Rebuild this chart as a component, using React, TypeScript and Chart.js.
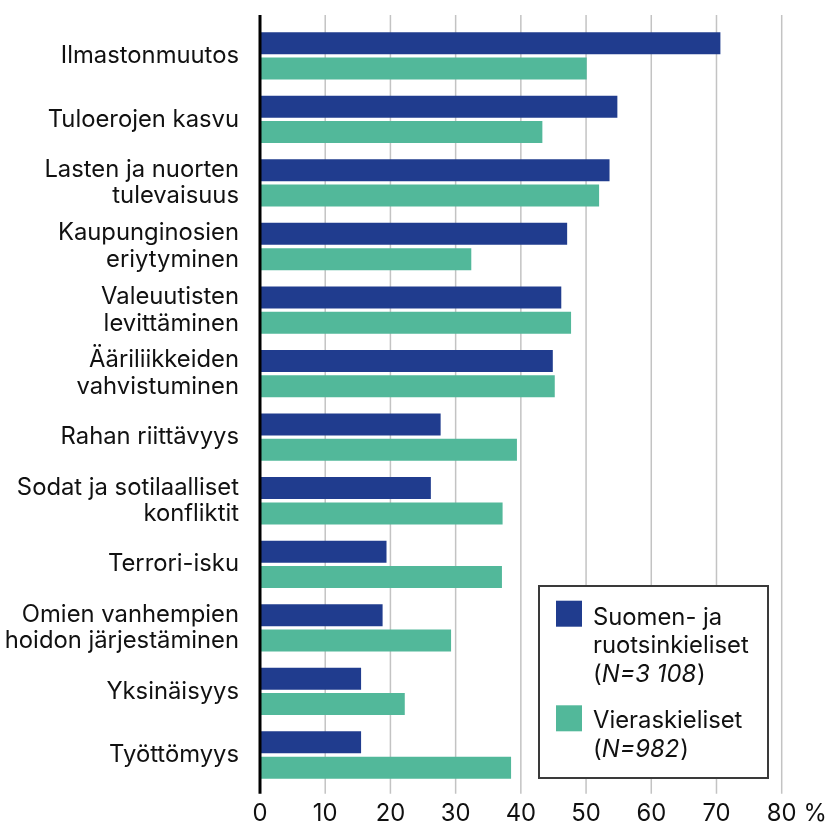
import React, { useEffect, useRef } from 'react';
import { Chart, registerables } from 'chart.js';

Chart.register(...registerables);

const categories: (string | string[])[] = [
  'Ilmastonmuutos',
  'Tuloerojen kasvu',
  ['Lasten ja nuorten', 'tulevaisuus'],
  ['Kaupunginosien', 'eriytyminen'],
  ['Valeuutisten', 'levittäminen'],
  ['Ääriliikkeiden', 'vahvistuminen'],
  'Rahan riittävyys',
  ['Sodat ja sotilaalliset', 'konfliktit'],
  'Terrori-isku',
  ['Omien vanhempien', 'hoidon järjestäminen'],
  'Yksinäisyys',
  'Työttömyys',
];

const finnishSwedish = [70.6, 54.8, 53.6, 47.1, 46.2, 44.9, 27.7, 26.2, 19.4, 18.8, 15.5, 15.5];
const foreignLanguage = [50.1, 43.3, 52.0, 32.4, 47.7, 45.2, 39.4, 37.2, 37.1, 29.3, 22.2, 38.5];

const xTicks = [0, 10, 20, 30, 40, 50, 60, 70, 80];
const unitLabel = '%';

const legendLines1 = ['Suomen- ja', 'ruotsinkieliset'];
const legendN1 = 'N=3 108';
const legendLines2 = ['Vieraskieliset'];
const legendN2 = 'N=982';

const BLUE = '#203c8e';
const GREEN = '#52b89a';
const FONT = 'Inter, "Noto Sans", sans-serif';
const FS = 23.8;
const TEXT = '#111111';

const gridPlugin = {
  id: 'customGrid',
  beforeDatasetsDraw(chart: any) {
    const { ctx, chartArea, scales } = chart;
    const x = scales.x;
    ctx.save();
    ctx.strokeStyle = '#c3c3c3';
    ctx.lineWidth = 1.5;
    for (const v of xTicks) {
      if (v === 0) continue;
      const px = x.getPixelForValue(v);
      ctx.beginPath();
      ctx.moveTo(px, chartArea.top - 9);
      ctx.lineTo(px, chartArea.bottom + 7);
      ctx.stroke();
    }
    ctx.restore();
  },
  afterDatasetsDraw(chart: any) {
    const { ctx, chartArea, scales } = chart;
    const px = scales.x.getPixelForValue(0);
    ctx.save();
    ctx.strokeStyle = '#000000';
    ctx.lineWidth = 3;
    ctx.beginPath();
    ctx.moveTo(px, chartArea.top - 9);
    ctx.lineTo(px, chartArea.bottom + 7);
    ctx.stroke();
    ctx.restore();
  },
};

const extrasPlugin = {
  id: 'extras',
  afterDraw(chart: any) {
    const { ctx, scales } = chart;
    const x = scales.x;
    const tickFont = x.options.ticks.font;
    ctx.save();
    ctx.font = `${FS}px ${FONT}`;
    ctx.fillStyle = TEXT;
    ctx.textBaseline = 'middle';
    ctx.textAlign = 'left';
    const last = xTicks[xTicks.length - 1];
    const lastPx = x.getPixelForValue(last);
    const w = ctx.measureText(String(last)).width;
    const y = x.top + x.options.ticks.padding + (tickFont.size * tickFont.lineHeight) / 2;
    ctx.fillText(unitLabel, lastPx + w / 2 + 7, y);

    // legend box
    const bx = 539, by = 586, bw = 229, bh = 192;
    ctx.fillStyle = '#ffffff';
    ctx.fillRect(bx, by, bw, bh);
    ctx.strokeStyle = '#3a3a3a';
    ctx.lineWidth = 2;
    ctx.strokeRect(bx, by, bw, bh);

    const sw = 26;
    const tx = 593;
    const lh = 28.3;
    ctx.textBaseline = 'alphabetic';

    const drawEntry = (color: string, sy: number, lines: string[], n: string, base: number) => {
      ctx.fillStyle = color;
      ctx.fillRect(556, sy, sw, sw);
      ctx.fillStyle = TEXT;
      ctx.font = `${FS}px ${FONT}`;
      let yy = base;
      for (const l of lines) {
        ctx.fillText(l, tx, yy);
        yy += lh;
      }
      let cx = tx;
      ctx.fillText('(', cx, yy);
      cx += ctx.measureText('(').width;
      ctx.font = `italic ${FS}px ${FONT}`;
      ctx.fillText(n, cx, yy);
      cx += ctx.measureText(n).width + 1;
      ctx.font = `${FS}px ${FONT}`;
      ctx.fillText(')', cx, yy);
    };
    drawEntry(BLUE, 600.7, legendLines1, legendN1, 625);
    drawEntry(GREEN, 705.3, legendLines2, legendN2, 728.3);
    ctx.restore();
  },
};

export default function App() {
  const ref = useRef<HTMLCanvasElement | null>(null);
  useEffect(() => {
    if (!ref.current) return;
    const chart = new Chart(ref.current, {
      type: 'bar',
      data: {
        labels: categories as any,
        datasets: [
          {
            label: 'Suomen- ja ruotsinkieliset (N=3 108)',
            data: finnishSwedish,
            backgroundColor: BLUE,
            borderWidth: 0,
            categoryPercentage: 0.796,
            barPercentage: 0.87,
          },
          {
            label: 'Vieraskieliset (N=982)',
            data: foreignLanguage,
            backgroundColor: GREEN,
            borderWidth: 0,
            categoryPercentage: 0.796,
            barPercentage: 0.87,
          },
        ],
      },
      options: {
        indexAxis: 'y',
        animation: false,
        responsive: false,
        maintainAspectRatio: false,
        layout: { padding: { top: 24, right: 45.3, bottom: 0, left: 0 } },
        plugins: {
          legend: { display: false },
          tooltip: { enabled: false },
        },
        scales: {
          x: {
            type: 'linear',
            position: 'bottom',
            min: 0,
            max: 80,
            afterBuildTicks: (scale: any) => {
              scale.ticks = xTicks.map((v) => ({ value: v }));
            },
            afterFit: (scale: any) => {
              scale.height = 36.2;
              scale.paddingLeft = 0;
              scale.paddingRight = 0;
            },
            grid: { display: false, drawTicks: false },
            border: { display: false },
            ticks: {
              padding: 13,
              color: TEXT,
              font: { family: FONT, size: FS, lineHeight: 1.2 },
              maxRotation: 0,
              callback: (v: any) => String(v),
            },
          },
          y: {
            type: 'category',
            afterFit: (scale: any) => {
              scale.width = 260;
              scale.paddingTop = 0;
              scale.paddingBottom = 0;
            },
            grid: { display: false, drawTicks: false },
            border: { display: false },
            ticks: {
              padding: 21,
              color: TEXT,
              font: { family: FONT, size: FS, lineHeight: 1.12 },
              autoSkip: false,
            },
          },
        },
      },
      plugins: [gridPlugin, extrasPlugin],
    });
    return () => chart.destroy();
  }, []);
  return (
    <div style={{ position: 'fixed', left: 0, top: 0, width: 827, height: 823, background: '#fff' }}>
      <canvas ref={ref} width={827} height={823} style={{ display: 'block', width: 827, height: 823 }} />
    </div>
  );
}
